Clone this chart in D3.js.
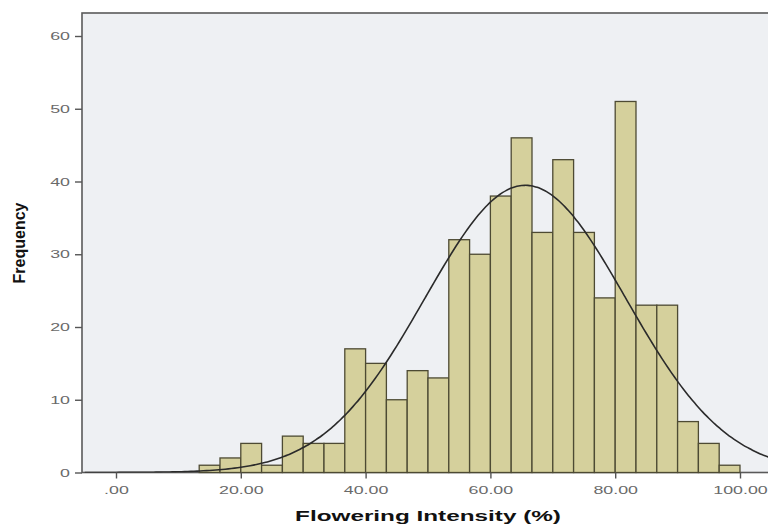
<!DOCTYPE html>
<html>
<head>
<meta charset="utf-8">
<script src="https://cdn.jsdelivr.net/npm/d3@7"></script>
<style>
  body { margin: 0; background: #fff; }
  svg { display: block; }
  .tick text { font-family: Arial, "Liberation Sans", sans-serif; fill: #6a6a6a; }
</style>
</head>
<body>
<svg id="vis" width="768" height="524"></svg>
<script>
// histogram bins (lower edge of first bin, width, counts)
var binStart = 13.333;
var binWidth = 3.3333;
var counts = [1, 2, 4, 1, 5, 4, 4, 17, 15, 10, 14, 13, 32, 30, 38, 46, 33, 43, 33, 24, 51, 23, 23, 7, 4, 1];

// fitted normal curve
var curveMean = 65.6;
var curveSd = 16.1;
var curveN = 478;

var xTicks = [0, 20, 40, 60, 80, 100];
var yTicks = [0, 10, 20, 30, 40, 50, 60];

var svg = d3.select("svg#vis");

var frame = { left: 82, top: 13, right: 772, bottom: 472.5 };
var stretch = 1.55; // the source picture is widened sideways

var x = d3.scaleLinear()
  .domain([0, 100])
  .range([116, 740]);

var y = d3.scaleLinear()
  .domain([0, 60])
  .range([frame.bottom, 36]);

// plot background
svg.append("rect")
  .attr("x", frame.left)
  .attr("y", frame.top)
  .attr("width", frame.right - frame.left)
  .attr("height", frame.bottom - frame.top)
  .style("fill", "#eef0f3")
  .style("stroke", "#5a5a5a")
  .style("stroke-width", 1.6);

svg.append("clipPath").attr("id", "clip")
  .append("rect")
  .attr("x", frame.left)
  .attr("y", frame.top)
  .attr("width", frame.right - frame.left)
  .attr("height", frame.bottom - frame.top);

var bins = counts.map(function(c, i) {
  return { x0: binStart + i * binWidth, x1: binStart + (i + 1) * binWidth, n: c };
});

svg.append("g").selectAll("rect.bar")
  .data(bins)
  .enter()
  .append("rect")
  .attr("class", "bar")
  .attr("x", d => x(d.x0))
  .attr("y", d => y(d.n))
  .attr("width", d => x(d.x1) - x(d.x0))
  .attr("height", d => y(0) - y(d.n))
  .style("fill", "#d5d09c")
  .style("stroke", "#4d4a33")
  .style("stroke-width", 1.3);

// normal curve scaled to counts
var curvePts = d3.range(-5, 106, 0.5).map(function(v) {
  var z = (v - curveMean) / curveSd;
  var f = curveN * binWidth / (curveSd * Math.sqrt(2 * Math.PI)) * Math.exp(-0.5 * z * z);
  return [v, f];
});

svg.append("path")
  .datum(curvePts)
  .attr("clip-path", "url(#clip)")
  .attr("d", d3.line().x(d => x(d[0])).y(d => y(d[1])).curve(d3.curveBasis))
  .style("fill", "none")
  .style("stroke", "#2b2b2b")
  .style("stroke-width", 1.6);

// axes
var yAxis = svg.append("g")
  .attr("transform", translate(frame.left, 0))
  .call(d3.axisLeft(y).tickValues(yTicks).tickSize(7).tickPadding(5).tickFormat(d3.format("d")));
yAxis.select(".domain").remove();
yAxis.selectAll(".tick line").style("stroke", "#555").style("stroke-width", 1.4);
yAxis.selectAll(".tick text")
  .style("font-size", "11.5px")
  .attr("x", -12 / stretch)
  .attr("transform", "scale(" + stretch + ",1)");

var xAxis = svg.append("g")
  .attr("transform", translate(0, frame.bottom))
  .call(d3.axisBottom(x).tickValues(xTicks).tickSize(6).tickPadding(7)
    .tickFormat(d => d === 0 ? ".00" : d3.format(".2f")(d)));
xAxis.select(".domain").remove();
xAxis.selectAll(".tick line").style("stroke", "#555").style("stroke-width", 1.4);
xAxis.selectAll(".tick text")
  .style("font-size", "11.5px")
  .attr("transform", "scale(" + stretch + ",1)");

// axis titles
svg.append("text")
  .attr("transform", translate(428, 521) + " scale(1.62,1)")
  .attr("text-anchor", "middle")
  .style("font-family", "Arial, 'Liberation Sans', sans-serif")
  .style("font-weight", "bold")
  .style("font-size", "15px")
  .style("fill", "#111")
  .text("Flowering Intensity (%)");

svg.append("text")
  .attr("transform", "translate(25,243) rotate(-90)")
  .attr("text-anchor", "middle")
  .style("font-family", "Arial, 'Liberation Sans', sans-serif")
  .style("font-weight", "bold")
  .style("font-size", "16px")
  .style("fill", "#111")
  .text("Frequency");

function translate(x, y) {
  return "translate(" + String(x) + "," + String(y) + ")";
}
</script>
</body>
</html>
